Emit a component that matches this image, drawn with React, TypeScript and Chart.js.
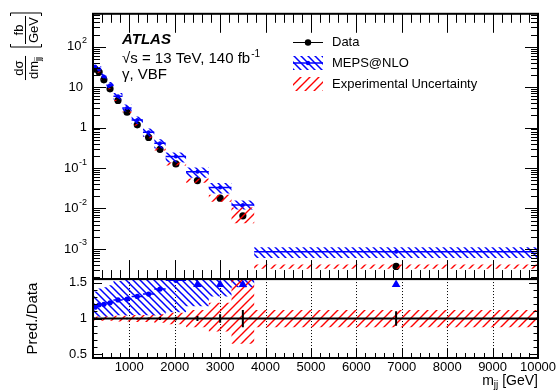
import React, { useEffect, useRef } from 'react';
import { Chart, registerables } from 'chart.js';

Chart.register(...registerables);

const FONT = '"Liberation Sans", Arial, Helvetica, sans-serif';

// m_jj bin edges (GeV)
const binEdges = [200, 290, 380, 500, 650, 850, 1050, 1300, 1550, 1800, 2250, 2750, 3250, 3750, 10000];
// measured dσ/dm_jj (fb/GeV)
const dataValues = [27.8, 23.5, 15.2, 9.1, 4.7, 2.4, 1.17, 0.57, 0.29, 0.126, 0.049, 0.018, 0.0066, 0.00037];
const dataStatUnc = [0.004, 0.005, 0.006, 0.007, 0.008, 0.01, 0.012, 0.015, 0.02, 0.025, 0.035, 0.06, 0.12, 0.1];
const expUncUp = [0.03, 0.03, 0.03, 0.03, 0.04, 0.04, 0.05, 0.05, 0.06, 0.08, 0.12, 0.22, 0.6, 0.12];
const expUncDown = [0.03, 0.03, 0.03, 0.03, 0.04, 0.04, 0.05, 0.05, 0.06, 0.08, 0.12, 0.18, 0.35, 0.12];
// MEPS@NLO prediction (fb/GeV)
const mepsValues = [32.2, 28.0, 18.2, 11.1, 5.92, 3.05, 1.53, 0.764, 0.409, 0.193, 0.0809, 0.0331, 0.01214, 0.000851];
const mepsUncUp = [0.19, 0.19, 0.2, 0.2, 0.21, 0.22, 0.23, 0.24, 0.25, 0.26, 0.27, 0.28, 0.3, 0.3];
const mepsUncDown = [0.14, 0.14, 0.15, 0.16, 0.17, 0.18, 0.2, 0.22, 0.26, 0.29, 0.29, 0.29, 0.22, 0.3];

const xTickValues = [1000, 2000, 3000, 4000, 5000, 6000, 7000, 8000, 9000, 10000];
const ratioTickValues = [0.5, 1, 1.5];
const logTickExponents = [-3, -2, -1, 0, 1, 2];

const X_MIN = 200;
const X_MAX = 10000;
const Y_MIN = 1.8e-4;
const Y_MAX = 650;
const R_MIN = 0.45;
const R_MAX = 1.55;

type Pt = { x: number; y: number | null };

const centers = dataValues.map((_, i) => (binEdges[i] + binEdges[i + 1]) / 2);
const steps = (vals: number[]): Pt[] => binEdges.map((x, i) => ({ x, y: vals[Math.min(i, vals.length - 1)] }));
const hbars = (vals: number[], keep: (i: number) => boolean = () => true): Pt[] => {
  const out: Pt[] = [];
  vals.forEach((v, i) => {
    if (!keep(i)) return;
    out.push({ x: binEdges[i], y: v }, { x: binEdges[i + 1], y: v }, { x: binEdges[i + 1], y: null });
  });
  return out;
};
const vbars = (lo: number[], hi: number[]): Pt[] => {
  const out: Pt[] = [];
  lo.forEach((l, i) => {
    out.push({ x: centers[i], y: l }, { x: centers[i], y: hi[i] }, { x: centers[i], y: null });
  });
  return out;
};
const clampR = (v: number) => Math.min(R_MAX, Math.max(R_MIN, v));

function makeHatch(color: string, size: number, forward: boolean, lw: number) {
  const c = document.createElement('canvas');
  c.width = size;
  c.height = size;
  const g = c.getContext('2d')!;
  g.strokeStyle = color;
  g.lineWidth = lw;
  g.beginPath();
  if (forward) {
    g.moveTo(-1, size + 1); g.lineTo(size + 1, -1);
    g.moveTo(-2, 2); g.lineTo(2, -2);
    g.moveTo(size - 2, size + 2); g.lineTo(size + 2, size - 2);
  } else {
    g.moveTo(-1, -1); g.lineTo(size + 1, size + 1);
    g.moveTo(size - 2, -2); g.lineTo(size + 2, 2);
    g.moveTo(-2, size - 2); g.lineTo(2, size + 2);
  }
  g.stroke();
  return g.createPattern(c, 'repeat')!;
}

export default function App() {
  const ref = useRef<HTMLCanvasElement>(null);

  useEffect(() => {
    const canvas = ref.current;
    if (!canvas) return;
    const BLUE = '#0000ff';
    const RED = '#ff0000';
    const blueHatch = makeHatch(BLUE, 7, false, 1.5);
    const redHatch = makeHatch(RED, 9, true, 1.4);

    const ratio = mepsValues.map((v, i) => v / dataValues[i]);
    const inRange = (i: number) => ratio[i] <= R_MAX;

    const band = (yAxisID: string, hi: number[], lo: number[], pattern: CanvasPattern, order: number) => [
      { type: 'line', yAxisID, data: steps(hi), stepped: 'before', borderWidth: 0, borderColor: 'transparent', pointRadius: 0, fill: false, order },
      { type: 'line', yAxisID, data: steps(lo), stepped: 'before', borderWidth: 0, borderColor: 'transparent', pointRadius: 0, fill: '-1', backgroundColor: pattern, order },
    ];

    const datasets: any[] = [
      // top panel
      ...band('y', mepsValues.map((v, i) => v * (1 + mepsUncUp[i])), mepsValues.map((v, i) => v * (1 - mepsUncDown[i])), blueHatch, 6),
      ...band('y', dataValues.map((v, i) => v * (1 + expUncUp[i])), dataValues.map((v, i) => v * (1 - expUncDown[i])), redHatch, 5),
      { type: 'line', yAxisID: 'y', data: centers.map((x, i) => ({ x, y: dataValues[i] })), showLine: false, pointRadius: 3.6, pointBackgroundColor: '#000', pointBorderColor: '#000', pointBorderWidth: 0, order: 7 },
      { type: 'line', yAxisID: 'y', data: vbars(dataValues.map((v, i) => v * (1 - dataStatUnc[i])), dataValues.map((v, i) => v * (1 + dataStatUnc[i]))), borderColor: '#000', borderWidth: 1, pointRadius: 0, order: 7 },
      { type: 'line', yAxisID: 'y', data: hbars(mepsValues), borderColor: BLUE, borderWidth: 1.5, pointRadius: 0, order: 4 },
      { type: 'line', yAxisID: 'y', data: centers.map((x, i) => ({ x, y: mepsValues[i] })), showLine: false, pointRadius: 2, pointBackgroundColor: BLUE, pointBorderColor: BLUE, pointBorderWidth: 0, order: 4 },
      // ratio panel
      ...band('y2', ratio.map((r, i) => clampR(r * (1 + mepsUncUp[i]))), ratio.map((r, i) => clampR(r * (1 - mepsUncDown[i]))), blueHatch, 6),
      ...band('y2', expUncUp.map((u) => clampR(1 + u)), expUncDown.map((d) => clampR(1 - d)), redHatch, 5),
      { type: 'line', yAxisID: 'y2', data: [{ x: binEdges[0], y: 1 }, { x: binEdges[binEdges.length - 1], y: 1 }], borderColor: '#000', borderWidth: 2, pointRadius: 0, order: 3 },
      { type: 'line', yAxisID: 'y2', data: vbars(dataStatUnc.map((s) => 1 - s), dataStatUnc.map((s) => 1 + s)), borderColor: '#000', borderWidth: 2, pointRadius: 0, order: 3 },
      { type: 'line', yAxisID: 'y2', data: hbars(ratio, inRange), borderColor: BLUE, borderWidth: 1.5, pointRadius: 0, order: 2 },
      { type: 'line', yAxisID: 'y2', data: centers.map((x, i) => ({ x, y: inRange(i) ? ratio[i] : null })), showLine: false, pointRadius: 2.6, pointBackgroundColor: BLUE, pointBorderColor: BLUE, pointBorderWidth: 0, order: 2 },
      { type: 'line', yAxisID: 'y2', data: centers.map((x, i) => ({ x, y: inRange(i) ? null : R_MAX - 0.075 })), showLine: false, pointStyle: 'triangle', pointRadius: 5, pointBackgroundColor: BLUE, pointBorderColor: BLUE, pointBorderWidth: 0, order: 2 },
    ];

    const decor = {
      id: 'decor',
      beforeDatasetsDraw(chart: any) {
        const { ctx } = chart;
        const x = chart.scales.x;
        const y2 = chart.scales.y2;
        ctx.save();
        ctx.strokeStyle = '#000';
        ctx.lineWidth = 1;
        ctx.setLineDash([1, 2]);
        xTickValues.forEach((v) => {
          if (v >= X_MAX) return;
          const px = Math.round(x.getPixelForValue(v)) + 0.5;
          ctx.beginPath();
          ctx.moveTo(px, y2.top);
          ctx.lineTo(px, y2.bottom);
          ctx.stroke();
        });
        ctx.restore();
      },
      afterDatasetsDraw(chart: any) {
        const { ctx } = chart;
        const x = chart.scales.x;
        const y = chart.scales.y;
        const y2 = chart.scales.y2;
        const L = x.left;
        const R = x.right;
        ctx.save();
        ctx.strokeStyle = '#000';
        ctx.fillStyle = '#000';
        ctx.lineWidth = 1;
        const line = (x0: number, y0: number, x1: number, y1: number) => {
          ctx.beginPath();
          ctx.moveTo(x0, y0);
          ctx.lineTo(x1, y1);
          ctx.stroke();
        };
        // x ticks
        for (let v = X_MIN; v <= X_MAX; v += 200) {
          const major = v % 1000 === 0;
          const px = Math.round(x.getPixelForValue(v)) + 0.5;
          const lt = major ? 19 : 9;
          line(px, y.top, px, y.top + lt);
          line(px, y.bottom, px, y.bottom - lt);
          const lb = major ? 10 : 5;
          line(px, y2.bottom, px, y2.bottom - lb);
        }
        // log y ticks
        for (let e = -4; e <= 2; e++) {
          for (let m = 1; m <= 9; m++) {
            const v = m * Math.pow(10, e);
            if (v < Y_MIN || v > Y_MAX) continue;
            const py = Math.round(y.getPixelForValue(v)) + 0.5;
            const len = m === 1 ? 13 : 7;
            line(L, py, L + len, py);
            line(R - len, py, R, py);
          }
        }
        // ratio ticks
        for (let k = 5; k <= 15; k++) {
          const py = Math.round(y2.getPixelForValue(k / 10)) + 0.5;
          const len = k % 5 === 0 ? 9 : 4.5;
          line(L, py, L + len, py);
          line(R - len, py, R, py);
        }
        // frames
        ctx.lineWidth = 2;
        ctx.strokeRect(L, y.top, R - L, y.bottom - y.top);
        ctx.strokeRect(L, y2.top, R - L, y2.bottom - y2.top);

        // log labels
        const rx = L - 6;
        logTickExponents.forEach((e) => {
          const py = y.getPixelForValue(Math.pow(10, e));
          ctx.textBaseline = 'middle';
          if (e === 0 || e === 1) {
            ctx.font = `13px ${FONT}`;
            ctx.textAlign = 'right';
            ctx.fillText(e === 0 ? '1' : '10', e === 0 ? rx : rx - 4, py);
          } else {
            ctx.font = `9px ${FONT}`;
            const sup = String(e);
            const sw = ctx.measureText(sup).width;
            ctx.textAlign = 'left';
            ctx.fillText(sup, rx - sw, py - 6);
            ctx.font = `13px ${FONT}`;
            ctx.textAlign = 'right';
            ctx.fillText('10', rx - sw - 0.5, py);
          }
        });

        // y title (top panel), rotated
        ctx.save();
        ctx.translate(25.5, 0);
        ctx.rotate(-Math.PI / 2);
        ctx.lineWidth = 1;
        const frac = (num: string, den: string, denSub: string | null, cx: number, size: number) => {
          ctx.font = `${size}px ${FONT}`;
          const nw = ctx.measureText(num).width;
          const dw = ctx.measureText(den).width;
          let sw = 0;
          const subSize = size * 0.7;
          if (denSub) {
            ctx.font = `${subSize}px ${FONT}`;
            sw = ctx.measureText(denSub).width;
          }
          const tw = dw + sw;
          const bw = Math.max(nw, tw) + 2;
          ctx.font = `${size}px ${FONT}`;
          ctx.textAlign = 'left';
          ctx.textBaseline = 'alphabetic';
          ctx.fillText(num, cx - nw / 2, -3);
          const db = size * 0.72 + 3;
          ctx.fillText(den, cx - tw / 2, db);
          if (denSub) {
            ctx.font = `${subSize}px ${FONT}`;
            ctx.fillText(denSub, cx - tw / 2 + dw, db + size * 0.22);
          }
          line(cx - bw / 2, 0, cx + bw / 2, 0);
          return bw;
        };
        frac('dσ', 'dm', 'jj', -68, 13);
        const bw = frac('fb', 'GeV', null, -30, 13);
        const bl = -30 - bw / 2 - 3;
        const br = -30 + bw / 2 + 3;
        ctx.beginPath();
        ctx.moveTo(bl + 3, -15); ctx.lineTo(bl, -15); ctx.lineTo(bl, 16); ctx.lineTo(bl + 3, 16);
        ctx.moveTo(br - 3, -15); ctx.lineTo(br, -15); ctx.lineTo(br, 16); ctx.lineTo(br - 3, 16);
        ctx.stroke();
        ctx.restore();

        // ratio y title
        ctx.save();
        ctx.translate(37, (y2.top + y2.bottom) / 2);
        ctx.rotate(-Math.PI / 2);
        ctx.font = `15px ${FONT}`;
        ctx.textAlign = 'center';
        ctx.textBaseline = 'alphabetic';
        ctx.fillText('Pred./Data', 0, 0);
        ctx.restore();

        // x title
        ctx.textBaseline = 'alphabetic';
        ctx.font = `14px ${FONT}`;
        ctx.textAlign = 'right';
        const xb = 385;
        ctx.fillText(' [GeV]', R, xb);
        const gw = ctx.measureText(' [GeV]').width;
        ctx.font = `10px ${FONT}`;
        ctx.fillText('jj', R - gw, xb + 3);
        const jw = ctx.measureText('jj').width;
        ctx.font = `14px ${FONT}`;
        ctx.fillText('m', R - gw - jw, xb);

        // ATLAS labels
        ctx.textAlign = 'left';
        ctx.font = `italic bold 15px ${FONT}`;
        ctx.fillText('ATLAS', 122, 44);
        ctx.font = `15px ${FONT}`;
        const t2 = '√s = 13 TeV, 140 fb';
        ctx.fillText(t2, 122, 63);
        const t2w = ctx.measureText(t2).width;
        ctx.font = `10px ${FONT}`;
        ctx.fillText('-1', 122 + t2w + 1, 57);
        ctx.font = `15px ${FONT}`;
        ctx.fillText('γ, VBF', 122, 79);

        // legend
        const lx0 = 293;
        const lx1 = 323;
        const lc = (lx0 + lx1) / 2;
        const tx = 332;
        const rows = [42, 63, 84];
        ctx.lineWidth = 1;
        line(lx0, rows[0] + 0.5, lx1, rows[0] + 0.5);
        ctx.beginPath();
        ctx.arc(lc, rows[0] + 0.5, 3.2, 0, Math.PI * 2);
        ctx.fill();
        ctx.fillStyle = blueHatch;
        ctx.fillRect(lx0, rows[1] - 7, lx1 - lx0, 14);
        ctx.strokeStyle = BLUE;
        ctx.lineWidth = 1.5;
        line(lx0, rows[1], lx1, rows[1]);
        ctx.fillStyle = BLUE;
        ctx.beginPath();
        ctx.arc(lc, rows[1], 2.2, 0, Math.PI * 2);
        ctx.fill();
        ctx.fillStyle = redHatch;
        ctx.fillRect(lx0, rows[2] - 7, lx1 - lx0, 14);
        ctx.fillStyle = '#000';
        ctx.font = `13px ${FONT}`;
        ctx.textBaseline = 'middle';
        ctx.fillText('Data', tx, rows[0]);
        ctx.fillText('MEPS@NLO', tx, rows[1]);
        ctx.fillText('Experimental Uncertainty', tx, rows[2]);
        ctx.restore();
      },
    };

    const tickFont = { family: FONT, size: 13 };
    const chart = new Chart(canvas, {
      type: 'line',
      data: { datasets },
      options: {
        responsive: false,
        maintainAspectRatio: false,
        devicePixelRatio: 1,
        animation: false,
        layout: { padding: { left: 0, right: 21, top: 7, bottom: 0 } },
        plugins: { legend: { display: false }, tooltip: { enabled: false } },
        scales: {
          x: {
            type: 'linear',
            position: 'bottom',
            min: X_MIN,
            max: X_MAX,
            afterBuildTicks: (s: any) => { s.ticks = xTickValues.map((v) => ({ value: v })); },
            afterFit: (s: any) => { s.height = 33; },
            ticks: { autoSkip: false, maxRotation: 0, minRotation: 0, font: tickFont, color: '#000', padding: 2, callback: (v: any) => String(v) },
            grid: { display: false, drawTicks: false },
            border: { display: false },
          },
          y2: {
            type: 'linear',
            position: 'left',
            stack: 'panels',
            stackWeight: 80.5,
            min: R_MIN,
            max: R_MAX,
            afterBuildTicks: (s: any) => { s.ticks = ratioTickValues.map((v) => ({ value: v })); },
            afterFit: (s: any) => { s.width = 93; },
            ticks: { font: tickFont, color: '#000', padding: 6, callback: (v: any) => String(v) },
            grid: { display: false, drawTicks: false },
            border: { display: false },
          },
          y: {
            type: 'logarithmic',
            position: 'left',
            stack: 'panels',
            stackWeight: 270.5,
            min: Y_MIN,
            max: Y_MAX,
            afterFit: (s: any) => { s.width = 93; },
            ticks: { display: false },
            grid: { display: false, drawTicks: false },
            border: { display: false },
          },
        },
      } as any,
      plugins: [decor],
    });
    return () => chart.destroy();
  }, []);

  return (
    <div style={{ position: 'fixed', left: 0, top: 0, width: 559, height: 391, background: '#fff' }}>
      <canvas ref={ref} width={559} height={391} style={{ display: 'block', width: 559, height: 391 }} />
    </div>
  );
}
